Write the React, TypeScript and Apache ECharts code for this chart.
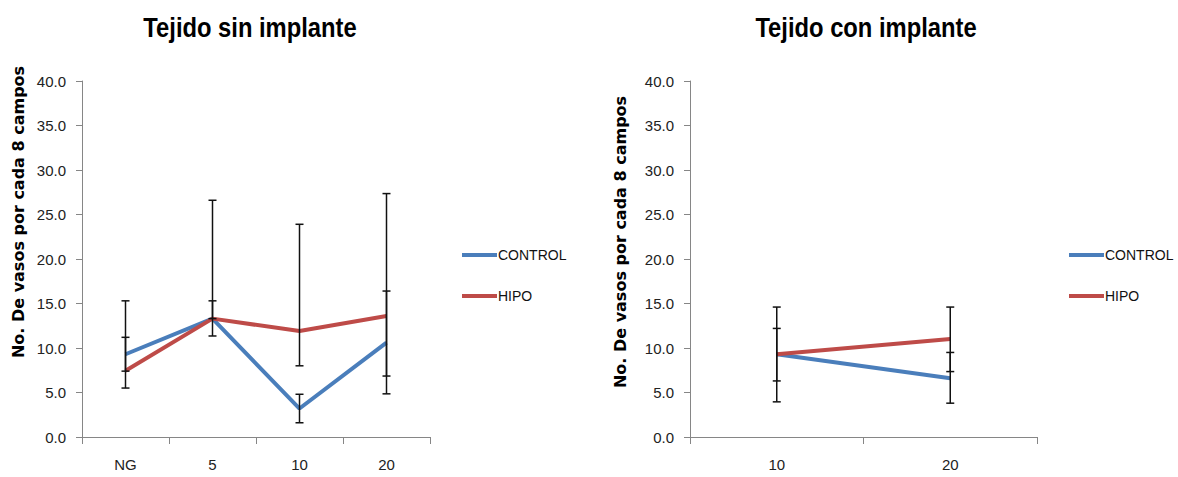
import React, { useEffect, useRef } from "react";
import * as echarts from "echarts";

const leftCategories = ["NG", "5", "10", "20"];
const rightCategories = ["10", "20"];
const seriesNames = ["CONTROL", "HIPO"];

const leftControl = [9.3, 13.3, 3.2, 10.6];
const leftHipo = [7.45, 13.3, 11.9, 13.6];
const leftControlLow = [7.4, 11.35, 1.6, 4.85];
const leftControlHigh = [11.2, 15.3, 4.8, 16.4];
const leftHipoLow = [5.5, 13.3, 8.0, 6.85];
const leftHipoHigh = [15.3, 26.6, 23.9, 27.35];

const rightControl = [9.3, 6.6];
const rightHipo = [9.3, 11.0];
const rightControlLow = [6.3, 3.8];
const rightControlHigh = [12.2, 9.5];
const rightHipoLow = [3.95, 7.35];
const rightHipoHigh = [14.6, 14.6];

const titles = ["Tejido sin implante", "Tejido con implante"];
const yAxisTitle = "No. De vasos por cada 8 campos";

const BLUE = "#4A7EBB";
const RED = "#BE4B48";
const SANS = "'Liberation Sans', Arial, sans-serif";

export default function App() {
  const ref = useRef<HTMLDivElement>(null);
  useEffect(() => {
    if (!ref.current) return;
    const chart = echarts.init(ref.current, undefined, { renderer: "svg" });

    const errData = (low: number[], high: number[]) =>
      low.map((l, i) => [i, l, high[i]]);

    const renderErr = (params: any, api: any) => {
      const lo = api.coord([api.value(0), api.value(1)]);
      const hi = api.coord([api.value(0), api.value(2)]);
      const hw = 4;
      const style = { stroke: "#111", lineWidth: 1.5 };
      return {
        type: "group",
        children: [
          { type: "line", shape: { x1: lo[0], y1: lo[1], x2: hi[0], y2: hi[1] }, style },
          { type: "line", shape: { x1: lo[0] - hw, y1: lo[1], x2: lo[0] + hw, y2: lo[1] }, style },
          { type: "line", shape: { x1: hi[0] - hw, y1: hi[1], x2: hi[0] + hw, y2: hi[1] }, style },
        ],
      };
    };

    const xAxisBase = (cats: string[], gridIndex: number) => ({
      type: "category",
      gridIndex,
      data: cats,
      boundaryGap: true,
      axisLine: { lineStyle: { color: "#868686", width: 1 } },
      axisTick: { show: true, length: 7, lineStyle: { color: "#868686" } },
      axisLabel: { color: "#222", fontSize: 15, fontFamily: SANS, margin: 20 },
      splitLine: { show: false },
    });
    const yAxisBase = (gridIndex: number) => ({
      type: "value",
      gridIndex,
      min: 0,
      max: 40,
      interval: 5,
      axisLine: { show: true, lineStyle: { color: "#868686", width: 1 } },
      axisTick: { show: true, length: 6, lineStyle: { color: "#868686" } },
      axisLabel: {
        color: "#222",
        fontSize: 15,
        fontFamily: SANS,
        margin: 16,
        formatter: (v: number) => v.toFixed(1),
      },
      splitLine: { show: false },
    });

    const lineSeries = (name: string, data: number[], color: string, idx: number) => ({
      type: "line",
      name,
      data,
      xAxisIndex: idx,
      yAxisIndex: idx,
      showSymbol: false,
      symbol: "none",
      lineStyle: { color, width: 4 },
      itemStyle: { color },
      z: 2,
    });
    const errSeries = (low: number[], high: number[], idx: number) => ({
      type: "custom",
      xAxisIndex: idx,
      yAxisIndex: idx,
      data: errData(low, high),
      renderItem: renderErr,
      z: 5,
      silent: true,
    });

    const legendBase = (left: number) => ({
      orient: "vertical",
      left,
      top: 243,
      itemWidth: 35,
      itemHeight: 4,
      itemGap: 27,
      icon: "rect",
      textStyle: { color: "#111", fontSize: 14, fontFamily: SANS, padding: [0, 0, 0, -4] },
      data: seriesNames,
    });

    const titleText = (x: number, text: string) => ({
      type: "text",
      x,
      y: 27,
      scaleX: 0.88,
      style: {
        text,
        fontSize: 27,
        fontWeight: "bold",
        fontFamily: SANS,
        fill: "#000",
        align: "center",
        verticalAlign: "middle",
      },
    });
    const yTitle = (x: number, y: number) => ({
      type: "text",
      x,
      y,
      rotation: Math.PI / 2,
      style: {
        text: yAxisTitle,
        fontSize: 16,
        fontWeight: "bold",
        fontFamily: "'DejaVu Sans', Verdana, sans-serif",
        fill: "#000",
        align: "center",
        verticalAlign: "middle",
      },
    });

    chart.setOption({
      animation: false,
      backgroundColor: "#fff",
      grid: [
        { left: 82, top: 81, width: 348, height: 356 },
        { left: 690, top: 81, width: 347, height: 356 },
      ],
      xAxis: [xAxisBase(leftCategories, 0), xAxisBase(rightCategories, 1)],
      yAxis: [yAxisBase(0), yAxisBase(1)],
      legend: [legendBase(457), legendBase(1064)],
      graphic: [
        titleText(250, titles[0]),
        titleText(866, titles[1]),
        yTitle(18, 212),
        yTitle(620, 242),
      ],
      series: [
        lineSeries(seriesNames[0], leftControl, BLUE, 0),
        lineSeries(seriesNames[1], leftHipo, RED, 0),
        errSeries(leftControlLow, leftControlHigh, 0),
        errSeries(leftHipoLow, leftHipoHigh, 0),
        lineSeries(seriesNames[0], rightControl, BLUE, 1),
        lineSeries(seriesNames[1], rightHipo, RED, 1),
        errSeries(rightControlLow, rightControlHigh, 1),
        errSeries(rightHipoLow, rightHipoHigh, 1),
      ],
    });
    return () => chart.dispose();
  }, []);

  return (
    <div
      ref={ref}
      style={{ position: "absolute", left: 0, top: 0, width: 1178, height: 477 }}
    />
  );
}
